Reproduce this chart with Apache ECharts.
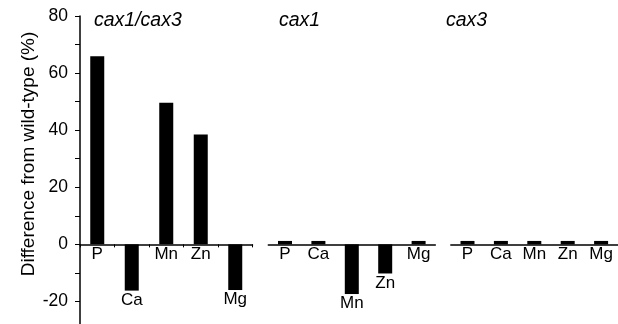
<!DOCTYPE html>
<html>
<head>
<meta charset="utf-8">
<script src="https://cdn.jsdelivr.net/npm/echarts@6/dist/echarts.min.js"></script>
<style>
html,body{margin:0;padding:0;background:#fff;}
#c{width:618px;height:324px;}
</style>
</head>
<body>
<div id="c"></div>
<script>
const categories = ['P', 'Ca', 'Mn', 'Zn', 'Mg'];
const panelTitles = ['cax1/cax3', 'cax1', 'cax3'];
const valuesDouble = [65.9, -16.2, 49.6, 38.5, -16.0];
const valuesCax1 = [1.2, 1.2, -17.4, -10.2, 1.2];
const valuesCax3 = [1.2, 1.2, 1.2, 1.2, 1.2];
const yMin = -30, yMax = 80, yStep = 10, yLabelStep = 20;
const yAxisName = 'Difference from wild-type (%)';

const FONT = '"Liberation Sans", Arial, sans-serif';
const panels = [valuesDouble, valuesCax1, valuesCax3];
const grids = [
  {left: 80, width: 172.5, top: 16, height: 314, outerBoundsMode: 'none', containLabel: false},
  {left: 268.3, width: 167, top: 16, height: 314, outerBoundsMode: 'none', containLabel: false},
  {left: 450.8, width: 167, top: 16, height: 314, outerBoundsMode: 'none', containLabel: false}
];
const titlePos = [{left: 94, top: 11}, {left: 279, top: 11}, {left: 446, top: 11}];

const chart = echarts.init(document.getElementById('c'), null, {renderer: 'canvas'});
const option = {
  animation: false,
  backgroundColor: '#ffffff',
  title: panelTitles.map((t, i) => ({
    text: t, left: titlePos[i].left, top: titlePos[i].top, padding: 0,
    textStyle: {fontFamily: FONT, fontSize: 19.5, fontStyle: 'italic', fontWeight: 'normal', color: '#000'}
  })),
  grid: grids,
  xAxis: panels.map((_, i) => ({
    type: 'category', gridIndex: i, data: categories,
    axisLine: {onZero: true, lineStyle: {color: '#000', width: 1.5}},
    axisTick: {show: i === 0, length: 3, lineStyle: {color: '#000', width: 1}},
    axisLabel: {show: false},
    splitLine: {show: false}
  })),
  yAxis: panels.map((_, i) => ({
    type: 'value', gridIndex: i, min: yMin, max: yMax, interval: yStep,
    show: i === 0,
    axisLine: {show: true, lineStyle: {color: '#000', width: 1.5}},
    axisTick: {show: true, length: 5, lineStyle: {color: '#000', width: 1}},
    axisLabel: {
      margin: 12, color: '#000', fontFamily: FONT, fontSize: 17.5,
      formatter: v => (v % yLabelStep === 0 ? String(v) : '')
    },
    splitLine: {show: false}
  })),
  graphic: [{
    type: 'text', x: 29, y: 154, rotation: Math.PI / 2,
    style: {text: yAxisName, font: '19px ' + FONT, fill: '#000', align: 'center', verticalAlign: 'middle'}
  }],
  series: panels.map((vals, i) => ({
    type: 'bar', xAxisIndex: i, yAxisIndex: i, data: vals,
    barWidth: 14, silent: true,
    itemStyle: {color: '#000'},
    label: {
      show: true, position: 'bottom', distance: 1,
      formatter: p => categories[p.dataIndex],
      color: '#000', fontFamily: FONT, fontSize: 17
    }
  }))
};
chart.setOption(option);
</script>
</body>
</html>
